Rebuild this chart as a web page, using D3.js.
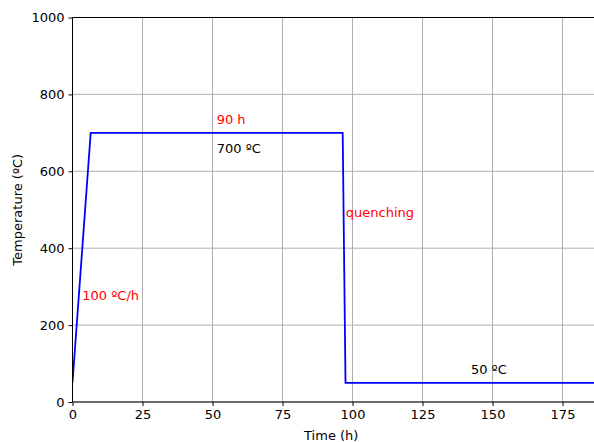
<!DOCTYPE html>
<html>
<head>
<meta charset="utf-8">
<script src="https://cdn.jsdelivr.net/npm/d3@7"></script>
<style>
  body { margin: 0; background: #fff; }
  svg { font-family: "DejaVu Sans", sans-serif; }
</style>
</head>
<body>
<div id="chart"></div>
<script>
// heat treatment profile: time (h) vs temperature (ºC)
var timeH = [0, 6.5, 96.5, 97.5, 190];
var tempC = [50, 700, 700, 50, 50];
var xTicks = [0, 25, 50, 75, 100, 125, 150, 175];
var yTicks = [0, 200, 400, 600, 800, 1000];

// annotations [x, y, text, colour]
var noteX = [51.5, 51.5, 97.6, 3.5, 142.3];
var noteY = [722, 647, 480, 265, 73];
var noteText = ["90 h", "700 ºC", "quenching", "100 ºC/h", "50 ºC"];
var noteColor = ["red", "black", "red", "red", "black"];

var width = 594, height = 442;
var margin = {top: 17.5, right: 0, bottom: 40, left: 72.5};

var svg = d3.select("#chart").append("svg")
  .attr("width", width)
  .attr("height", height);

var x = d3.scaleLinear()
  .domain([0, 186.25])
  .range([margin.left, width - margin.right]);

var y = d3.scaleLinear()
  .domain([0, 1000])
  .range([height - margin.bottom, margin.top]);

// grid
svg.append("g")
  .selectAll("line.gx")
  .data(xTicks)
  .enter().append("line")
  .attr("x1", d => x(d)).attr("x2", d => x(d))
  .attr("y1", y(0)).attr("y2", y(1000))
  .attr("stroke", "#b0b0b0").attr("stroke-width", 1);

svg.append("g")
  .selectAll("line.gy")
  .data(yTicks)
  .enter().append("line")
  .attr("x1", x(0)).attr("x2", width)
  .attr("y1", d => y(d)).attr("y2", d => y(d))
  .attr("stroke", "#b0b0b0").attr("stroke-width", 1);

// the profile line
var line = d3.line()
  .x((d, i) => x(timeH[i]))
  .y((d, i) => y(tempC[i]));

svg.append("defs").append("clipPath").attr("id", "clip")
  .append("rect")
  .attr("x", x(0)).attr("y", y(1000))
  .attr("width", width - x(0)).attr("height", y(0) - y(1000));

svg.append("path")
  .datum(timeH)
  .attr("clip-path", "url(#clip)")
  .attr("d", line)
  .attr("fill", "none")
  .attr("stroke", "blue")
  .attr("stroke-width", 1.8);

// axes
var xAxis = d3.axisBottom(x).tickValues(xTicks).tickSize(4).tickPadding(4)
  .tickFormat(d3.format("d"));
var yAxis = d3.axisLeft(y).tickValues(yTicks).tickSize(4).tickPadding(4)
  .tickFormat(d3.format("d"));

var gx = svg.append("g")
  .attr("transform", `translate(0, ${y(0)})`)
  .call(xAxis);
var gy = svg.append("g")
  .attr("transform", `translate(${x(0)}, 0)`)
  .call(yAxis);

[gx, gy].forEach(g => {
  g.selectAll("text").attr("font-size", 13).attr("fill", "#000")
    .attr("font-family", "DejaVu Sans, sans-serif");
  g.selectAll("line").attr("stroke", "#000").attr("stroke-width", 1);
  g.select(".domain").remove();
});

// spines
svg.append("line")
  .attr("x1", x(0)).attr("x2", width)
  .attr("y1", y(0)).attr("y2", y(0))
  .attr("stroke", "#000").attr("stroke-width", 1);
svg.append("line")
  .attr("x1", x(0)).attr("x2", width)
  .attr("y1", y(1000)).attr("y2", y(1000))
  .attr("stroke", "#000").attr("stroke-width", 1);
svg.append("line")
  .attr("x1", x(0)).attr("x2", x(0))
  .attr("y1", y(0)).attr("y2", y(1000))
  .attr("stroke", "#000").attr("stroke-width", 1);

// axis labels
svg.append("text")
  .attr("x", (x(0) + width) / 2 - 2)
  .attr("y", 440)
  .attr("text-anchor", "middle")
  .attr("font-size", 13)
  .text("Time (h)");

svg.append("text")
  .attr("transform", `translate(22, ${(y(0) + y(1000)) / 2}) rotate(-90)`)
  .attr("text-anchor", "middle")
  .attr("font-size", 13)
  .text("Temperature (ºC)");

// annotations
svg.append("g")
  .selectAll("text")
  .data(noteText)
  .enter().append("text")
  .attr("x", (d, i) => x(noteX[i]))
  .attr("y", (d, i) => y(noteY[i]))
  .attr("fill", (d, i) => noteColor[i])
  .attr("font-size", 13)
  .text(d => d);
</script>
</body>
</html>
